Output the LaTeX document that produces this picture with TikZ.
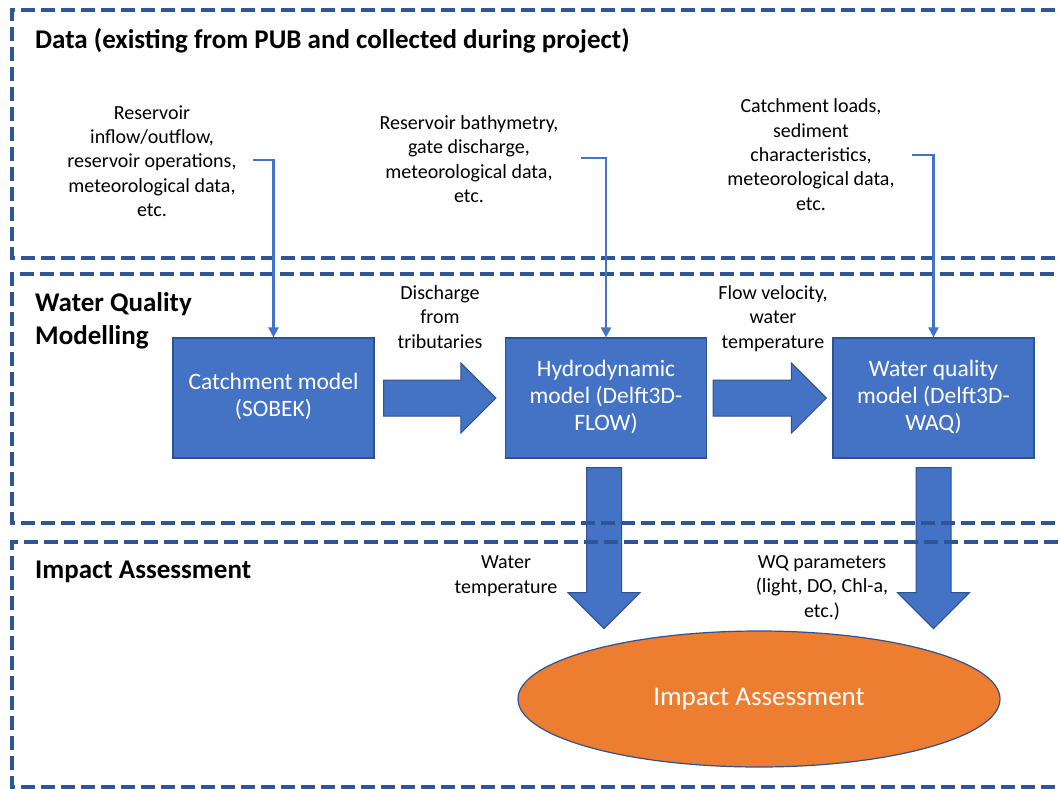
\documentclass[tikz,border=0pt]{standalone}
\usepackage{fontspec}
\setmainfont{Carlito}
\usetikzlibrary{shapes.geometric,arrows.meta,calc}

\definecolor{accent}{HTML}{4472C4}
\definecolor{accentdark}{HTML}{2F528F}
\definecolor{framecol}{HTML}{2F5597}
\definecolor{impactorange}{HTML}{ED7D31}

\tikzset{
  modelbox/.style={draw=accentdark, line width=1.2pt, fill=accent, text=white,
    minimum width=201, minimum height=120, inner sep=0, align=center,
    font=\fontsize{23.5}{27}\selectfont},
  note/.style={align=center, inner sep=0, font=\fontsize{20}{24.3}\selectfont},
  heading/.style={inner sep=0, align=left, font=\fontsize{27}{32.5}\selectfont\bfseries},
  sectionframe/.style={draw=framecol, line width=4pt, dash pattern=on 14pt off 6pt},
  feed/.style={draw=accent, line width=2.2pt, -{Triangle[length=10pt,width=10pt]}},
  blockarrow/.style={fill=accent, draw=accentdark, line width=1pt},
}

% wide arrow pointing right, from #1 (tail centre) to #2 (tip)
\newcommand\rightblock[2]{%
  \filldraw[blockarrow] ($(#1)+(0,-18)$) -- ($(#2)+(-35,-18)$) -- ($(#2)+(-35,-35)$)
    -- (#2) -- ($(#2)+(-35,35)$) -- ($(#2)+(-35,18)$) -- ($(#1)+(0,18)$) -- cycle;}
% wide arrow pointing down, from #1 (tail centre) to #2 (tip)
\newcommand\downblock[2]{%
  \filldraw[blockarrow] ($(#1)+(-17.5,0)$) -- ($(#2)+(-17.5,-36)$) -- ($(#2)+(-36,-36)$)
    -- (#2) -- ($(#2)+(36,-36)$) -- ($(#2)+(17.5,-36)$) -- ($(#1)+(17.5,0)$) -- cycle;}

\begin{document}
\begin{tikzpicture}[x=1pt,y=-1pt]
\useasboundingbox (0,0) rectangle (1060,789);

% section headings
\node[heading, anchor=base west] (hdata) at (35,49) {Data (existing from PUB and collected during project)};
\node[heading, anchor=north west] (hwq) at (35,289) {\strut Water Quality\\Modelling};
\node[heading, anchor=base west] (hia) at (35,578) {Impact Assessment};

% input data notes
\node[note] (d1) at (152,163) {\strut Reservoir\\inflow/outflow,\\reservoir operations,\\meteorological data,\\etc.\strut};
\node[note] (d2) at (469,161) {\strut Reservoir bathymetry,\\gate discharge,\\meteorological data,\\etc.\strut};
\node[note] (d3) at (811,156.6) {\strut Catchment loads,\\sediment\\characteristics,\\meteorological data,\\etc.\strut};

% models
\node[modelbox] (catch) at (273.5,398) {\strut Catchment model\\(SOBEK)\strut};
\node[modelbox] (hydro) at (606,398) {\strut Hydrodynamic\\model (Delft3D-\\FLOW)\strut};
\node[modelbox] (wq) at (933.5,398) {\strut Water quality\\model (Delft3D-\\WAQ)\strut};

% assessment
\node[ellipse, minimum width=482, minimum height=136, inner sep=0, fill=impactorange,
  draw=accentdark, line width=1.2pt, text=white, font=\fontsize{27}{32}\selectfont]
  (impact) at (759,699) {Impact Assessment};

% exchanged quantities
\node[note] (l1) at (440,319) {\strut Discharge\\from\\tributaries\strut};
\node[note] (l2) at (773,319) {\strut Flow velocity,\\water\\temperature\strut};
\node[note] (l3) at (506,576) {\strut Water\\temperature\strut};
\node[note] (l4) at (822,588) {\strut WQ parameters\\(light, DO, Chl-a,\\etc.)\strut};

% wide flow arrows
\coordinate (a1s) at ($(catch.east)+(9,0)$);
\coordinate (a1t) at ($(hydro.west)+(-9,0)$);
\coordinate (a2s) at ($(hydro.east)+(6,0)$);
\coordinate (a2t) at ($(wq.west)+(-6,0)$);
\coordinate (a3s) at ($(hydro.south)+(-2,9)$);
\coordinate (a3t) at ($(hydro.south)+(-2,170)$);
\coordinate (a4s) at ($(wq.south)+(0,9)$);
\coordinate (a4t) at ($(wq.south)+(0,170)$);
\rightblock{a1s}{a1t}
\rightblock{a2s}{a2t}
\downblock{a3s}{a3t}
\downblock{a4s}{a4t}

% dashed section frames (open to the right)
\draw[sectionframe] (1075,258) -- (12,258) -- (12,10) -- (1075,10);
\draw[sectionframe] (1075,523) -- (12,523) -- (12,274) -- (1075,274);
\draw[sectionframe] (1075,787) -- (12,787) -- (12,542) -- (1075,542);

% data feeds into the models
\coordinate (f1) at (253,160);
\coordinate (f2) at (581,158);
\coordinate (f3) at (912,155);
\draw[feed] (f1) -| (catch.north);
\draw[feed] (f2) -| (hydro.north);
\draw[feed] (f3) -| (wq.north);
\end{tikzpicture}
\end{document}
